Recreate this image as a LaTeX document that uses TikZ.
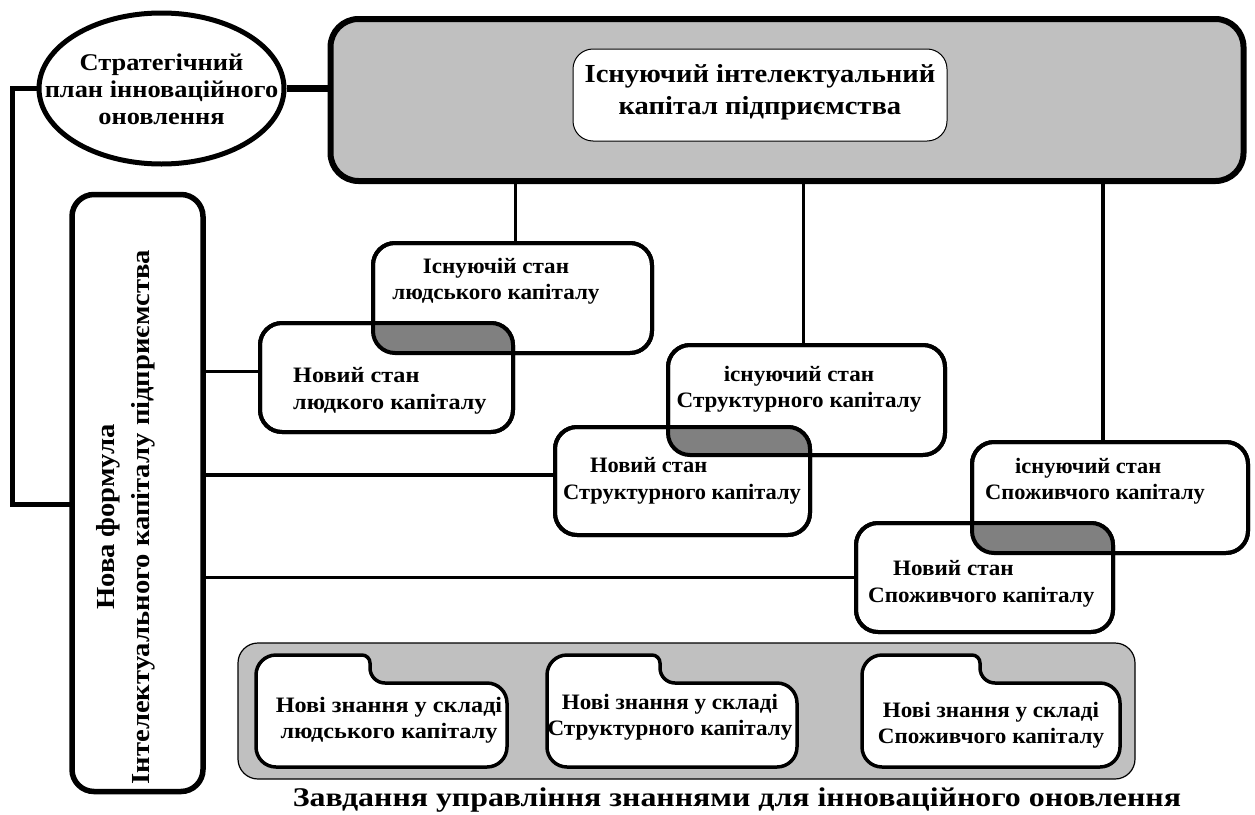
\documentclass[tikz,border=0pt]{standalone}
\usepackage{fontspec}
\setmainfont{Liberation Serif}
\newfontfamily\wf{Liberation Serif}[FakeStretch=1.1]
\newfontfamily\wfm{Liberation Serif}[FakeStretch=1.05]
\newfontfamily\wfs{Liberation Serif}[FakeStretch=1.02]
\newfontfamily\capf{Liberation Serif}[FakeStretch=1.18]
\usetikzlibrary{shapes.geometric}
\definecolor{panelgray}{RGB}{192,192,192}
\definecolor{overgray}{RGB}{128,128,128}
\begin{document}
\begin{tikzpicture}[x=1pt,y=-1pt,
  bx/.style={draw, line width=4pt, rounded corners=22pt, fill=white, inner sep=0pt, outer sep=0pt},
  conn/.style={line width=3.5pt},
  lbl/.style={font=\wfm\bfseries\fontsize{22}{26.5}\selectfont, inner sep=0pt},
  lblw/.style={lbl, font=\wf\bfseries\fontsize{22}{26.5}\selectfont},
  lbln/.style={lbl, font=\wfs\bfseries\fontsize{22}{26.5}\selectfont},
  docshape/.style={draw, line width=3.5pt, fill=white},
]
\useasboundingbox (0,0) rectangle (1255,814);
\fill[white] (0,0) rectangle (1255,814);

% top panel
\node[bx, line width=6pt, fill=panelgray, minimum width=913pt, minimum height=162pt, rounded corners=28pt] (top) at (787,100) {};
\node[draw, line width=1pt, fill=white, rounded corners=20pt, minimum width=374pt, minimum height=92pt, inner sep=0pt] (inner) at (760,95) {};
\node[lbl, font=\wf\bfseries\fontsize{26}{32}\selectfont, align=center] (toptxt) at (760,92) {Існуючий інтелектуальний\\капітал підприємства};

% ellipse
\node[ellipse, draw, line width=5pt, fill=white, minimum width=245pt, minimum height=151pt, inner sep=0pt] (ell) at (161.5,88.5) {};
\node[lbl, align=center, font=\wf\bfseries\fontsize{24}{27}\selectfont] (elltxt) at (161.5,89) {Стратегічний\\план інноваційного\\оновлення};

% left vertical box
\node[bx, line width=5.5pt, minimum width=131pt, minimum height=597pt] (nf) at (137.5,493) {};
\node[lbl, rotate=90, align=center, font=\wf\bfseries\fontsize{26}{35}\selectfont] (nftxt) at (126,517) {Нова формула\\Інтелектуального капіталу підприємства};

% human capital
\node[bx, minimum width=279pt, minimum height=110pt] (eh) at (512.5,298) {};
\node[bx, minimum width=253pt, minimum height=109pt] (nh) at (386.5,377.5) {};
% structural capital
\node[bx, minimum width=277pt, minimum height=110pt] (es) at (806.5,400) {};
\node[bx, minimum width=255pt, minimum height=108pt] (ns) at (682.5,481) {};
% consumer capital
\node[bx, minimum width=276pt, minimum height=111pt] (ec) at (1110,497.5) {};
\node[bx, minimum width=257pt, minimum height=109pt] (nc) at (984.5,577.5) {};

% overlaps
\begin{scope}
\clip[rounded corners=22pt] (eh.south west) rectangle (eh.north east);
\fill[overgray, rounded corners=22pt] (nh.south west) rectangle (nh.north east);
\end{scope}
\begin{scope}
\clip[rounded corners=22pt] (es.south west) rectangle (es.north east);
\fill[overgray, rounded corners=22pt] (ns.south west) rectangle (ns.north east);
\end{scope}
\begin{scope}
\clip[rounded corners=22pt] (ec.south west) rectangle (ec.north east);
\fill[overgray, rounded corners=22pt] (nc.south west) rectangle (nc.north east);
\end{scope}
\foreach \n in {eh,nh,es,ns,ec,nc}{
  \draw[line width=4pt, rounded corners=22pt] (\n.south west) rectangle (\n.north east);
}

% labels
\node[lbl, align=center] (ehtxt) at (496,281) {Існуючій стан\\людського капіталу};
\node[lblw, align=left, anchor=west] (nhtxt) at (293,391) {Новий стан\\людкого капіталу};
\node[lbl, align=center] (estxt) at (799,389) {існуючий стан\\Структурного капіталу};
\node[lbln, align=left, anchor=west] (nstxt) at (563,481) {\hspace{27pt}Новий стан\\Структурного капіталу};
\node[lbln, align=left, anchor=west] (ectxt) at (985,481) {\hspace{30pt}існуючий стан\\Споживчого капіталу};
\node[lbl, align=left, anchor=west] (nctxt) at (868,584) {\hspace{25pt}Новий стан\\Споживчого капіталу};

% connectors
\draw[line width=7pt] (ell.east) -- (ell.east -| top.west);
\draw[line width=5pt] (ell.west) -- (12.5,88.5) |- ([yshift=-11pt]nf.west);
\draw[conn] ([xshift=3pt]eh.north |- top.south) -- ([xshift=3pt]eh.north);
\draw[conn] ([xshift=-3pt]es.north |- top.south) -- ([xshift=-3pt]es.north);
\draw[conn] ([xshift=-7pt]ec.north |- top.south) -- ([xshift=-7pt]ec.north);
\draw[conn] ([yshift=6pt]nf.east |- nh.west) -- ([yshift=6pt]nh.west);
\draw[conn] ([yshift=6pt]nf.east |- ns.west) -- ([yshift=6pt]ns.west);
\draw[conn] (nf.east |- nc.west) -- (nc.west);

% bottom panel
\node[draw, line width=1.2pt, fill=panelgray, rounded corners=20pt, minimum width=897pt, minimum height=136pt, inner sep=0pt] (panel) at (686.5,711) {};
\foreach \L/\R/\X in {256/507/370, 547/797/660, 862/1120/980}{
  \draw[docshape] (\L,675) arc(180:270:20) -- (\X-8,655) arc(270:360:8) -- (\X,668) arc(180:90:15) -- (\R-20,683) arc(270:360:20) -- (\R,747) arc(0:90:20) -- (\L+20,767) arc(90:180:20) -- cycle;
}
\node[lblw, align=center] (k1) at (389,720) {Нові знання у складі\\людського капіталу};
\node[lbl, align=center] (k2) at (670,717) {Нові знання у складі\\Структурного капіталу};
\node[lbl, align=center] (k3) at (991,725) {Нові знання у складі\\Споживчого капіталу};

\node[lbl, font=\capf\bfseries\fontsize{27}{30}\selectfont] (cap) at (737,800) {Завдання управління знаннями для інноваційного оновлення};
\end{tikzpicture}
\end{document}
